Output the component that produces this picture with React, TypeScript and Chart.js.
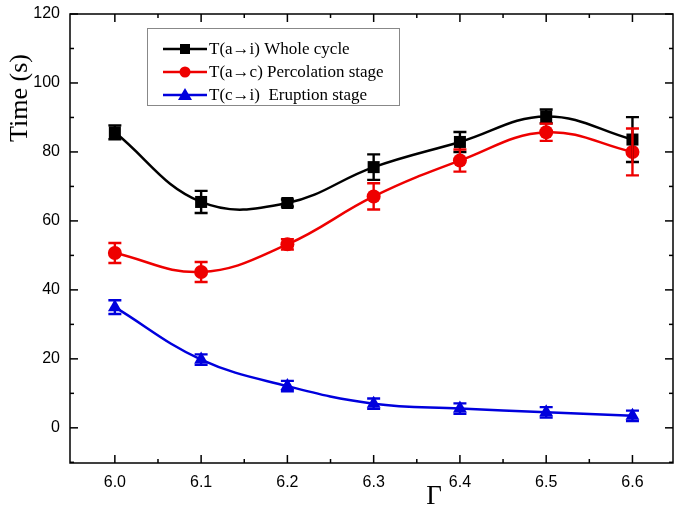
import React, { useEffect, useRef } from "react";
import { Chart, registerables } from "chart.js";

Chart.register(...registerables);

const gammaValues = [6.0, 6.1, 6.2, 6.3, 6.4, 6.5, 6.6];
const wholeCycle = [85.7, 65.5, 65.2, 75.6, 82.9, 90.3, 83.6];
const wholeCycleErr = [2.0, 3.2, 1.0, 3.7, 2.9, 2.0, 6.5];
const percolation = [50.7, 45.2, 53.2, 67.1, 77.5, 85.7, 80.0];
const percolationErr = [2.9, 2.9, 1.5, 3.8, 3.2, 2.5, 6.8];
const eruption = [35.0, 19.8, 12.1, 7.0, 5.6, 4.5, 3.5];
const eruptionErr = [2.0, 1.5, 1.5, 1.5, 1.5, 1.5, 1.5];

const xTicks = [6.0, 6.1, 6.2, 6.3, 6.4, 6.5, 6.6];
const xMinorTicks = [6.05, 6.15, 6.25, 6.35, 6.45, 6.55];
const yTicks = [0, 20, 40, 60, 80, 100, 120];
const yMinorTicks = [-10, 10, 30, 50, 70, 90, 110];

const seriesLabels = [
  "T(a\u2192i) Whole cycle",
  "T(a\u2192c) Percolation stage",
  "T(c\u2192i)  Eruption stage",
];
const colors = ["#000000", "#ee0000", "#0000dd"];
const pointStyles = ["rect", "circle", "triangle"];
const pointRadii = [8.5, 7, 8];
const errors = [wholeCycleErr, percolationErr, eruptionErr];

const framePlugin = {
  id: "frameTicks",
  afterDraw(chart: any) {
    const { ctx, chartArea: a, scales } = chart;
    const xs = scales.x;
    const ys = scales.y;
    ctx.save();
    ctx.strokeStyle = "#000";
    ctx.lineWidth = 1.5;
    ctx.strokeRect(a.left, a.top, a.right - a.left, a.bottom - a.top);
    ctx.lineWidth = 1.5;
    const tick = (x1: number, y1: number, x2: number, y2: number) => {
      ctx.beginPath();
      ctx.moveTo(x1, y1);
      ctx.lineTo(x2, y2);
      ctx.stroke();
    };
    xTicks.forEach((v) => {
      const x = xs.getPixelForValue(v);
      tick(x, a.bottom, x, a.bottom - 8);
      tick(x, a.top, x, a.top + 8);
    });
    xMinorTicks.forEach((v) => {
      const x = xs.getPixelForValue(v);
      tick(x, a.bottom, x, a.bottom - 4);
      tick(x, a.top, x, a.top + 4);
    });
    yTicks.forEach((v) => {
      const y = ys.getPixelForValue(v);
      tick(a.left, y, a.left + 8, y);
      tick(a.right, y, a.right - 8, y);
    });
    yMinorTicks.forEach((v) => {
      const y = ys.getPixelForValue(v);
      tick(a.left, y, a.left + 4, y);
      tick(a.right, y, a.right - 4, y);
    });

    // axis titles
    ctx.fillStyle = "#000";
    ctx.font = '26px "Liberation Serif", "Times New Roman", serif';
    ctx.textAlign = "center";
    ctx.textBaseline = "middle";
    ctx.save();
    ctx.translate(20, 98);
    ctx.rotate(-Math.PI / 2);
    ctx.fillText("Time (s)", 0, 0);
    ctx.restore();
    ctx.font = '27px "Liberation Serif", "Times New Roman", serif';
    ctx.fillText("\u0393", 434, 497);

    // legend
    const lx = 147, ly = 28, lw = 252, lh = 77;
    ctx.strokeStyle = "#888";
    ctx.lineWidth = 1;
    ctx.strokeRect(lx + 0.5, ly + 0.5, lw, lh);
    ctx.font = '17px "Liberation Serif", "Times New Roman", serif';
    ctx.textAlign = "left";
    chart.data.datasets.forEach((ds: any, i: number) => {
      const y = 49 + i * 23;
      ctx.strokeStyle = ds.borderColor;
      ctx.lineWidth = 2.5;
      ctx.beginPath();
      ctx.moveTo(163, y);
      ctx.lineTo(207, y);
      ctx.stroke();
      ctx.fillStyle = ds.borderColor;
      const cx = 185;
      if (ds.pointStyle === "rect") {
        ctx.fillRect(cx - 5, y - 5, 10, 10);
      } else if (ds.pointStyle === "circle") {
        ctx.beginPath();
        ctx.arc(cx, y, 5.5, 0, Math.PI * 2);
        ctx.fill();
      } else {
        ctx.beginPath();
        ctx.moveTo(cx, y - 7);
        ctx.lineTo(cx + 7, y + 5);
        ctx.lineTo(cx - 7, y + 5);
        ctx.closePath();
        ctx.fill();
      }
      ctx.fillStyle = "#000";
      ctx.fillText(ds.label, 209, y + 1);
    });
    ctx.restore();
  },
};

const errorBarPlugin = {
  id: "errorBars",
  afterDatasetsDraw(chart: any) {
    const { ctx, scales } = chart;
    ctx.save();
    chart.data.datasets.forEach((ds: any, i: number) => {
      const errs = errors[i];
      ctx.strokeStyle = ds.borderColor;
      ctx.lineWidth = 2.4;
      ds.data.forEach((p: any, j: number) => {
        const x = scales.x.getPixelForValue(p.x);
        const yTop = scales.y.getPixelForValue(p.y + errs[j]);
        const yBot = scales.y.getPixelForValue(p.y - errs[j]);
        ctx.beginPath();
        ctx.moveTo(x, yTop);
        ctx.lineTo(x, yBot);
        ctx.moveTo(x - 6.5, yTop);
        ctx.lineTo(x + 6.5, yTop);
        ctx.moveTo(x - 6.5, yBot);
        ctx.lineTo(x + 6.5, yBot);
        ctx.stroke();
      });
    });
    ctx.restore();
  },
};

export default function App() {
  const ref = useRef<HTMLCanvasElement>(null);
  useEffect(() => {
    if (!ref.current) return;
    const series = [wholeCycle, percolation, eruption];
    const chart = new Chart(ref.current, {
      type: "line",
      data: {
        datasets: series.map((vals, i) => ({
          label: seriesLabels[i],
          data: vals.map((v, j) => ({ x: gammaValues[j], y: v })),
          borderColor: colors[i],
          backgroundColor: colors[i],
          borderWidth: 2.5,
          pointStyle: pointStyles[i] as any,
          pointRadius: pointRadii[i],
          pointBorderWidth: 0,
          tension: 0.4,
          fill: false,
        })),
      },
      options: {
        animation: false,
        responsive: false,
        maintainAspectRatio: false,
        layout: { padding: { left: 0, right: 12, top: 14, bottom: 0 } },
        plugins: { legend: { display: false }, tooltip: { enabled: false } },
        scales: {
          x: {
            type: "linear",
            min: 5.948,
            max: 6.647,
            grid: { display: false },
            border: { display: false },
            afterBuildTicks: (s: any) => {
              s.ticks = xTicks.map((v) => ({ value: v }));
            },
            afterFit: (s: any) => {
              s.height = 47;
              s.paddingLeft = 0;
              s.paddingRight = 0;
            },
            ticks: {
              color: "#000",
              padding: 2,
              font: { family: '"Liberation Sans", Arial, sans-serif', size: 16 },
              callback: (v: any) => Number(v).toFixed(1),
            },
          },
          y: {
            type: "linear",
            min: -10.2,
            max: 120,
            grid: { display: false },
            border: { display: false },
            afterBuildTicks: (s: any) => {
              s.ticks = yTicks.map((v) => ({ value: v }));
            },
            afterFit: (s: any) => {
              s.width = 70;
              s.paddingTop = 0;
              s.paddingBottom = 0;
            },
            ticks: {
              color: "#000",
              padding: 2,
              font: { family: '"Liberation Sans", Arial, sans-serif', size: 16 },
            },
          },
        },
      },
      plugins: [errorBarPlugin, framePlugin],
    });
    return () => chart.destroy();
  }, []);
  return (
    <div style={{ position: "fixed", left: 0, top: 0, width: 685, height: 510, background: "#fff" }}>
      <canvas ref={ref} width={685} height={510} />
    </div>
  );
}
